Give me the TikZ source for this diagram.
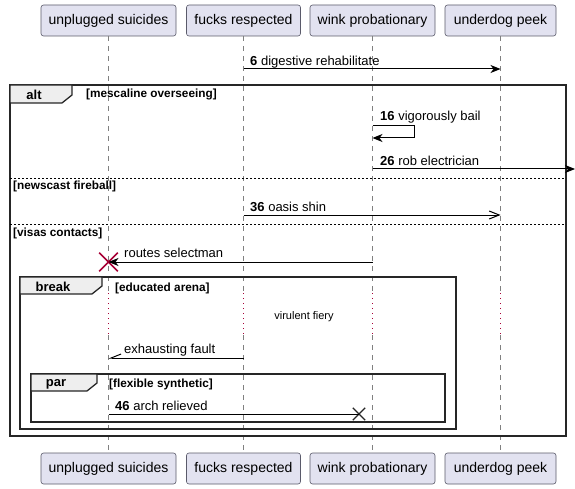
\documentclass[tikz,border=0pt]{standalone}
\usepackage{fontspec}
\setmainfont{Liberation Sans}
\usetikzlibrary{arrows.meta,shapes.misc}
\definecolor{partfill}{HTML}{E2E2F0}
\definecolor{partline}{HTML}{5A5A6A}
\definecolor{delayred}{HTML}{A80036}
\definecolor{tabfill}{HTML}{EEEEEE}
\tikzset{
  part/.style={draw=partline, fill=partfill, rounded corners=2.5pt, line width=0.6pt,
    minimum height=31pt, inner sep=0pt, font=\fontsize{14}{16}\selectfont},
  life/.style={draw=gray, line width=0.6pt, dash pattern=on 5pt off 5pt},
  delay/.style={draw=delayred, line width=1pt, dash pattern=on 1pt off 4pt},
  msg/.style={line width=1pt},
  full/.style={-{Stealth[length=10pt, width=8pt, inset=3pt]}},
  open/.style={-{Straight Barb[length=10pt, width=8pt]}},
  half/.style={-{Straight Barb[right, length=10pt, width=8pt]}},
  lbl/.style={anchor=west, inner sep=0pt, font=\fontsize{13}{15}\selectfont},
  frame/.style={draw=black!85, line width=1.8pt},
  tab/.style={draw=black!85, fill=tabfill, line width=1.3pt},
  tabtext/.style={inner sep=0pt, font=\fontsize{13}{15}\selectfont\bfseries},
  cond/.style={anchor=west, inner sep=0pt, font=\fontsize{11.8}{13}\selectfont\bfseries},
  sep/.style={line width=0.8pt, dash pattern=on 2pt off 2pt},
}
\begin{document}
\begin{tikzpicture}[x=1pt, y=-1pt]
  \useasboundingbox (0,0) rectangle (575,489);
  % Participants
  \node[part, minimum width=135pt] (usT) at (108.5,20.5) {unplugged suicides};
  \node[part, minimum width=114pt] (frT) at (243.5,20.5) {fucks respected};
  \node[part, minimum width=125pt] (wpT) at (372.5,20.5) {wink probationary};
  \node[part, minimum width=111pt] (udT) at (500.5,20.5) {underdog peek};
  \node[part, minimum width=135pt] (usB) at (108.5,468.5) {unplugged suicides};
  \node[part, minimum width=114pt] (frB) at (243.5,468.5) {fucks respected};
  \node[part, minimum width=125pt] (wpB) at (372.5,468.5) {wink probationary};
  \node[part, minimum width=111pt] (udB) at (500.5,468.5) {underdog peek};
  % Lifelines
  \foreach \p in {us,fr,wp,ud} {
    \draw[life] (\p T.south) -- (\p T |- 0,293);
    \draw[delay] (\p T |- 0,293) -- (\p T |- 0,335);
    \draw[life] (\p T |- 0,335) -- (\p B.north);
  }
  % Message 6
  \draw[msg, full] (frT |- 0,69) -- (udT |- 0,69);
  \node[lbl] (m6) at (250,62) {\textbf{6} digestive rehabilitate};
  % alt frame
  \draw[frame] (10,85) rectangle (566,436);
  \draw[tab] (10,85) -- (72,85) -- (72,95) -- (62,103) -- (10,103) -- cycle;
  \node[tabtext] (altTab) at (34,95) {alt};
  \node[cond] (altCond) at (86,94) {[mescaline overseeing]};
  % Message 16, self
  \draw[msg, full] (wpT |- 0,126) -- (414,126) -- (414,138) -- (wpT |- 0,138);
  \node[lbl] (m16) at (380,117.5) {\textbf{16} vigorously bail};
  % Message 26, out of the frame
  \coordinate (outR) at (575,169);
  \draw[msg, full] (wpT |- 0,169) -- (outR);
  \node[lbl] (m26) at (380,160.5) {\textbf{26} rob electrician};
  % else newscast fireball
  \draw[sep] (10,178) -- (566,178);
  \node[cond] (elseA) at (13,186) {[newscast fireball]};
  \draw[msg, open] (frT |- 0,215) -- (udT |- 0,215);
  \node[lbl] (m36) at (250,206.5) {\textbf{36} oasis shin};
  % else visas contacts
  \draw[sep] (10,224) -- (566,224);
  \node[cond] (elseB) at (13,233) {[visas contacts]};
  \node[cross out, draw=delayred, line width=1.6pt, minimum size=17pt, inner sep=0pt] (usX) at (usT |- 0,262) {};
  \draw[msg, full] (wpT |- 0,262) -- (usX.center);
  \node[lbl] (mRoutes) at (124,252.5) {routes selectman};
  % break frame
  \draw[frame] (20,277) rectangle (456,429);
  \draw[tab] (20,277) -- (102,277) -- (102,286) -- (92,294) -- (20,294) -- cycle;
  \node[tabtext] (breakTab) at (53,287) {break};
  \node[cond] (breakCond) at (115,288) {[educated arena]};
  \node[inner sep=0pt, font=\fontsize{11}{13}\selectfont] (virulent) at (304,317) {virulent fiery};
  \draw[msg, half] (frT |- 0,358) -- (usT |- 0,358);
  \node[lbl] (mFault) at (124,350) {exhausting fault};
  % par frame
  \draw[frame] (31,374) rectangle (445,422);
  \draw[tab] (31,374) -- (97,374) -- (97,383) -- (87,391) -- (31,391) -- cycle;
  \node[tabtext] (parTab) at (56,384) {par};
  \node[cond] (parCond) at (109,384) {[flexible synthetic]};
  \node[cross out, draw=black!85, line width=1.4pt, minimum size=11pt, inner sep=0pt] (lostX) at (359,414) {};
  \draw[msg] (usT |- 0,414) -- (lostX.center);
  \node[lbl] (m46) at (115,406) {\textbf{46} arch relieved};
\end{tikzpicture}
\end{document}
